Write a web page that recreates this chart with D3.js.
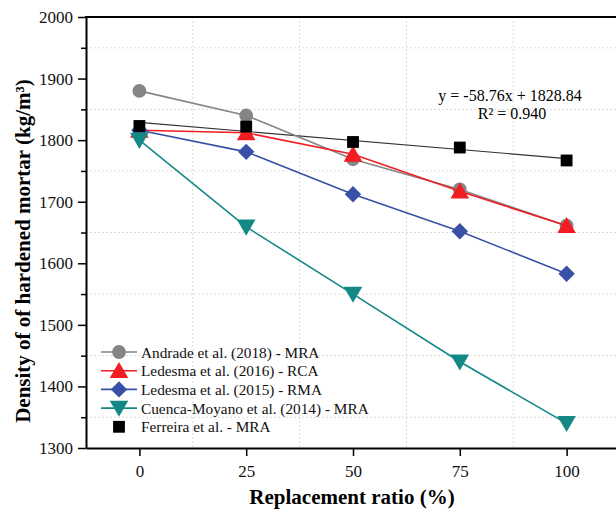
<!DOCTYPE html>
<html>
<head>
<meta charset="utf-8">
<script src="https://cdn.jsdelivr.net/npm/d3@7"></script>
<style>
body { margin: 0; background: #fff; }
</style>
</head>
<body>
<svg id="chart" width="616" height="515"></svg>
<script>
// data
var ratios = [0, 25, 50, 75, 100]
var andrade = [1880, 1840, 1769, 1720, 1661]
var ledesma2016 = [1816, 1812, 1777, 1717, 1661]
var ledesma2015 = [1816, 1781, 1712, 1652, 1583]
var cuenca = [1800, 1659, 1550, 1440, 1340]
var ferreira = [1823, 1822, 1797, 1788, 1767]
var fitSlope = -58.76   // per unit of ratio/100
var fitIntercept = 1828.84
var xTicks = [0, 25, 50, 75, 100]
var yTicks = [1300, 1400, 1500, 1600, 1700, 1800, 1900, 2000]

var FONT = "'Liberation Serif', 'Times New Roman', Times, serif"

var series = [
    {name: "Andrade et al. (2018) - MRA", values: andrade, color: "#858585", shape: "circle", line: true},
    {name: "Ledesma et al. (2016) - RCA", values: ledesma2016, color: "#f21d22", shape: "triangle", line: true},
    {name: "Ledesma et al. (2015) - RMA", values: ledesma2015, color: "#3850a5", shape: "diamond", line: true},
    {name: "Cuenca-Moyano et al. (2014) - MRA", values: cuenca, color: "#148885", shape: "down", line: true},
    {name: "Ferreira et al. - MRA", values: ferreira, color: "#000000", shape: "square", line: false}
]

var margins = {top: 17, left: 86, right: 620, bottom: 448}

var svg = d3.select("#chart")

var xScale = d3.scaleLinear()
    .domain([-12.5, 112.5])
    .range([margins.left, margins.right])

var yScale = d3.scaleLinear()
    .domain([1300, 2000])
    .range([margins.bottom, margins.top])

// grid lines (dotted, at the half steps)
var grid = svg.append("g")
d3.range(12.5, 113, 25).forEach(function(v) {
    grid.append("line")
        .attr("x1", xScale(v)).attr("x2", xScale(v))
        .attr("y1", margins.top).attr("y2", margins.bottom)
        .attr("stroke", "#dcdcdc").attr("stroke-dasharray", "2,2")
})
d3.range(1350, 2000, 100).forEach(function(v) {
    grid.append("line")
        .attr("x1", margins.left).attr("x2", margins.right)
        .attr("y1", yScale(v)).attr("y2", yScale(v))
        .attr("stroke", "#dcdcdc").attr("stroke-dasharray", "2,2")
})

// axes
var xAxis = d3.axisBottom(xScale).tickValues(xTicks).tickSize(8).tickSizeOuter(0).tickFormat(d3.format("d"))
var yAxis = d3.axisLeft(yScale).tickValues(yTicks).tickSize(8).tickSizeOuter(0).tickFormat(d3.format("d"))
var yMinor = d3.axisLeft(yScale).tickValues(d3.range(1350, 2000, 100)).tickSize(5).tickFormat("").tickSizeOuter(0)

svg.append("g")
    .attr("transform", "translate(0," + margins.bottom + ")")
    .call(xAxis)
    .call(function(g) {
        g.attr("font-family", null)
        g.select(".domain").attr("stroke-width", 2)
        g.selectAll(".tick line").attr("stroke-width", 1.5)
        g.selectAll(".tick text").attr("dy", 0).attr("y", 29)
            .style("font-family", FONT)
            .style("font-size", "17px").attr("fill", "#111")
    })

svg.append("g")
    .attr("transform", "translate(" + margins.left + ",0)")
    .call(yAxis)
    .call(function(g) {
        g.attr("font-family", null)
        g.select(".domain").attr("stroke-width", 2)
        g.selectAll(".tick line").attr("stroke-width", 1.5)
        g.selectAll(".tick text").attr("x", -13)
            .style("font-family", FONT)
            .style("font-size", "17px").attr("fill", "#111")
    })

svg.append("g")
    .attr("transform", "translate(" + margins.left + ",0)")
    .call(yMinor)
    .call(function(g) {
        g.select(".domain").remove()
        g.selectAll(".tick line").attr("stroke-width", 1.5)
    })

// top frame line
svg.append("line")
    .attr("x1", margins.left - 1).attr("x2", margins.right)
    .attr("y1", margins.top).attr("y2", margins.top)
    .attr("stroke", "#000").attr("stroke-width", 2)

var symbolFor = function(shape) {
    if (shape == "circle") return d3.symbol().type(d3.symbolCircle).size(150)
    if (shape == "square") return d3.symbol().type(d3.symbolSquare).size(140)
    if (shape == "diamond") return d3.symbol().type(d3.symbolSquare).size(135)
    return d3.symbol().type(d3.symbolTriangle).size(150)
}
var rotateFor = function(shape) {
    if (shape == "diamond") return 45
    if (shape == "down") return 180
    return 0
}

var line = d3.line()
    .x(function(d, i) { return xScale(ratios[i]) })
    .y(function(d) { return yScale(d) })

// linear fit for Ferreira
svg.append("line")
    .attr("x1", xScale(0)).attr("y1", yScale(fitIntercept))
    .attr("x2", xScale(100)).attr("y2", yScale(fitIntercept + fitSlope))
    .attr("stroke", "#333").attr("stroke-width", 1.2)

series.forEach(function(s) {
    if (s.line) {
        svg.append("path")
            .datum(s.values)
            .attr("fill", "none")
            .attr("stroke", s.color)
            .attr("stroke-width", 1.6)
            .attr("d", line)
    }
    svg.append("g")
        .selectAll("path")
        .data(s.values)
        .enter()
        .append("path")
        .attr("d", symbolFor(s.shape))
        .attr("fill", s.color)
        .attr("transform", function(d, i) {
            var dy = s.shape == "triangle" ? 2 : (s.shape == "down" ? -2 : 0)
            return "translate(" + xScale(ratios[i]) + "," + (yScale(d) + dy) + ") rotate(" + rotateFor(s.shape) + ")"
        })
})

// equation
svg.append("text")
    .attr("x", 510).attr("y", 101)
    .attr("text-anchor", "middle")
    .style("font-family", FONT)
    .style("font-size", "16px")
    .text("y = -58.76x + 1828.84")
svg.append("text")
    .attr("x", 512).attr("y", 119)
    .attr("text-anchor", "middle")
    .style("font-family", FONT)
    .style("font-size", "16px")
    .text("R² = 0.940")

// legend
var legend = svg.append("g")
series.forEach(function(s, i) {
    var y = 352 + i * 18.7
    if (s.line) {
        legend.append("line")
            .attr("x1", 101).attr("x2", 137)
            .attr("y1", y).attr("y2", y)
            .attr("stroke", s.color).attr("stroke-width", 1.6)
    }
    var dy = s.shape == "triangle" ? 2 : (s.shape == "down" ? -2 : 0)
    legend.append("path")
        .attr("d", symbolFor(s.shape))
        .attr("fill", s.color)
        .attr("transform", "translate(119," + (y + dy) + ") rotate(" + rotateFor(s.shape) + ")")
    legend.append("text")
        .attr("x", 141).attr("y", y + 5.5)
        .style("font-family", FONT)
        .style("font-size", "15.3px")
        .attr("fill", "#111")
        .text(s.name)
})

// axis titles
svg.append("text")
    .attr("x", 352).attr("y", 504)
    .attr("text-anchor", "middle")
    .style("font-family", FONT)
    .style("font-size", "21px")
    .style("font-weight", "bold")
    .text("Replacement ratio (%)")

svg.append("text")
    .attr("transform", "translate(30,251) rotate(-90)")
    .attr("text-anchor", "middle")
    .style("font-family", FONT)
    .style("font-size", "21px")
    .style("font-weight", "bold")
    .text("Density of of hardened mortar (kg/m³)")
</script>
</body>
</html>
